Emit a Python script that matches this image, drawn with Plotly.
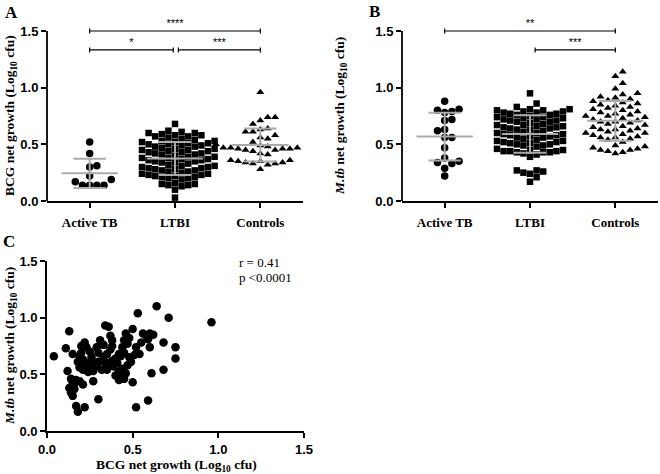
import numpy as np
import plotly.graph_objects as go

# ---------------- data ----------------
groups = ["Active TB", "LTBI", "Controls"]

bcg_active = [0.52, 0.42, 0.31, 0.30, 0.22, 0.17, 0.19, 0.14, 0.14, 0.14, 0.14]
bcg_ltbi = [0.68,
            0.62, 0.61, 0.60, 0.60, 0.59, 0.58, 0.58, 0.57, 0.57, 0.56, 0.55, 0.54,
            0.53, 0.53, 0.52, 0.52, 0.51, 0.51, 0.50, 0.50, 0.49, 0.49, 0.48, 0.48, 0.47,
            0.46, 0.46, 0.45, 0.45, 0.44, 0.44, 0.43, 0.43, 0.42, 0.42, 0.41, 0.41, 0.40,
            0.39, 0.39, 0.38, 0.38, 0.37, 0.37, 0.36, 0.36, 0.35, 0.35, 0.34, 0.34, 0.33,
            0.32, 0.31, 0.31, 0.30, 0.30, 0.29, 0.29, 0.28, 0.28, 0.27, 0.27, 0.26, 0.26,
            0.25, 0.24, 0.24, 0.23, 0.23, 0.22, 0.22, 0.21, 0.21, 0.20, 0.20, 0.19,
            0.16, 0.15, 0.15, 0.14, 0.14, 0.13, 0.10,
            0.03]
bcg_controls = [0.96, 0.74, 0.74, 0.71, 0.68, 0.64, 0.63, 0.61, 0.61, 0.58, 0.56, 0.55,
                0.52, 0.50, 0.49, 0.48, 0.48, 0.47, 0.47, 0.47, 0.46, 0.46, 0.46, 0.45,
                0.45, 0.44, 0.42, 0.41, 0.36, 0.36, 0.35, 0.35, 0.34, 0.34, 0.33, 0.33,
                0.32, 0.28]

mtb_active = [0.88, 0.81, 0.80, 0.79, 0.78, 0.72, 0.71, 0.63, 0.62, 0.56, 0.56, 0.47,
              0.38, 0.35, 0.34, 0.33, 0.29, 0.22]
mtb_ltbi = [0.95, 0.86, 0.83,
            0.81, 0.81, 0.80, 0.80, 0.79, 0.79, 0.78, 0.78, 0.77, 0.77, 0.76, 0.76,
            0.75, 0.74, 0.74, 0.73, 0.73, 0.72, 0.72, 0.71, 0.71, 0.70, 0.70, 0.69,
            0.68, 0.67, 0.67, 0.66, 0.66, 0.65, 0.65, 0.64, 0.64, 0.63, 0.63, 0.62,
            0.61, 0.60, 0.60, 0.59, 0.59, 0.58, 0.58, 0.57, 0.57, 0.56, 0.56, 0.55,
            0.54, 0.53, 0.53, 0.52, 0.52, 0.51, 0.51, 0.50, 0.50, 0.49, 0.49, 0.48,
            0.46, 0.45, 0.45, 0.44, 0.44, 0.44, 0.43, 0.43, 0.43, 0.42, 0.41, 0.39,
            0.27, 0.27, 0.26, 0.25, 0.24, 0.21, 0.17]
mtb_controls = [1.14, 1.10, 1.04, 0.99, 0.95, 0.94, 0.92, 0.91, 0.90, 0.89,
                0.88, 0.87, 0.86, 0.85, 0.84, 0.83, 0.82, 0.81, 0.80, 0.79,
                0.78, 0.77, 0.76, 0.75, 0.75, 0.74, 0.73, 0.72, 0.71, 0.70,
                0.70, 0.69, 0.68, 0.67, 0.66, 0.65, 0.64, 0.63, 0.63, 0.62,
                0.61, 0.60, 0.60, 0.59, 0.58, 0.57, 0.56, 0.56, 0.55, 0.54,
                0.52, 0.49, 0.48, 0.47, 0.46, 0.45, 0.45, 0.44, 0.43, 0.42]

# panel C: paired BCG vs M.tb net growth
bcg_c = [0.04, 0.11, 0.13, 0.15, 0.12, 0.14, 0.15, 0.17, 0.16, 0.13, 0.14, 0.15, 0.17,
         0.18, 0.22, 0.19, 0.21, 0.22, 0.23, 0.19, 0.21, 0.20, 0.19, 0.21, 0.22, 0.24,
         0.26, 0.28, 0.27, 0.30, 0.29, 0.30, 0.31, 0.33, 0.34, 0.36, 0.37, 0.38, 0.35,
         0.37, 0.38, 0.32, 0.34, 0.35, 0.41, 0.42, 0.43, 0.42, 0.45, 0.46, 0.45, 0.47,
         0.50, 0.43, 0.45, 0.48, 0.49, 0.51, 0.40, 0.38, 0.44, 0.50, 0.53, 0.56, 0.58,
         0.60, 0.62, 0.55, 0.59, 0.60, 0.54, 0.64, 0.71, 0.68, 0.68, 0.61, 0.59, 0.52,
         0.75, 0.75, 0.96, 0.25, 0.27, 0.29, 0.33, 0.39, 0.40, 0.44, 0.47, 0.24, 0.18,
         0.16, 0.20, 0.42, 0.46, 0.36, 0.48, 0.30, 0.26, 0.52]
mtb_c = [0.66, 0.73, 0.88, 0.68, 0.53, 0.46, 0.43, 0.45, 0.42, 0.38, 0.34, 0.31, 0.22,
         0.17, 0.21, 0.44, 0.41, 0.78, 0.74, 0.66, 0.63, 0.69, 0.56, 0.54, 0.58, 0.60,
         0.58, 0.60, 0.44, 0.28, 0.74, 0.69, 0.80, 0.76, 0.93, 0.92, 0.84, 0.80, 0.68,
         0.72, 0.75, 0.54, 0.60, 0.54, 0.60, 0.52, 0.48, 0.45, 0.46, 0.86, 0.80, 0.77,
         0.90, 0.66, 0.69, 0.65, 0.61, 0.67, 0.64, 0.62, 0.74, 0.43, 1.04, 0.86, 0.84,
         0.86, 0.85, 0.78, 0.81, 0.74, 0.68, 1.10, 1.00, 0.78, 0.54, 0.51, 0.27, 0.21,
         0.74, 0.64, 0.96, 0.70, 0.53, 0.57, 0.65, 0.57, 0.49, 0.55, 0.58, 0.52, 0.61,
         0.37, 0.75, 0.68, 0.51, 0.60, 0.82, 0.61, 0.65, 0.74]

r_text = "r = 0.41"
p_text = "p <0.0001"

# significance comparisons: (group i, group j, bar level, label)
sig_a = [(0, 2, 1.50, "****"), (0, 1, 1.333, "*"), (1, 2, 1.333, "***")]
sig_b = [(0, 2, 1.50, "**"), (1, 2, 1.333, "***")]

# ---------------- geometry helpers ----------------
W, H = 660, 474
def dx(px):
    return px / W
def dy(py):
    return 1 - py / H

X_PX = 256 / 3.0        # pixels per category unit
Y_PX = 170 / 1.5        # pixels per 1.0 on y

def swarm(values, center, d_px):
    vals = np.asarray(values, dtype=float)
    order = np.argsort(vals, kind="stable")
    placed = []
    xo = np.zeros(len(vals))
    cands = [0.0]
    for n in range(1, 60):
        cands += [n * d_px, -n * d_px]
    for idx in order:
        y = vals[idx] * Y_PX
        for c in cands:
            ok = True
            for (px, py) in placed:
                if (c - px) ** 2 + (y - py) ** 2 < (d_px * 0.98) ** 2:
                    ok = False
                    break
            if ok:
                break
        placed.append((c, y))
        xo[idx] = c
    return center + xo / X_PX

fig = go.Figure()

symbols = ["circle", "square", "triangle-up"]
msizes = [7.5, 6.5, 7]
dspace = [7.2, 6.6, 7.4]
GRAY = "#ababab"

def dot_panel(datasets, xa, ya, sigs):
    for g, vals in enumerate(datasets):
        xs = swarm(vals, g, dspace[g])
        fig.add_trace(go.Scatter(x=xs, y=vals, mode="markers", xaxis=xa, yaxis=ya,
                                 marker=dict(symbol=symbols[g], size=msizes[g], color="black",
                                             line=dict(width=0)),
                                 showlegend=False, hoverinfo="y", cliponaxis=False))
    for g, vals in enumerate(datasets):
        m = float(np.mean(vals))
        s = float(np.std(vals, ddof=1))
        fig.add_trace(go.Scatter(
            x=[g - 0.33, g + 0.33, None, g - 0.19, g + 0.19, None, g - 0.19, g + 0.19, None, g, g],
            y=[m, m, None, m + s, m + s, None, m - s, m - s, None, m - s, m + s],
            mode="lines", xaxis=xa, yaxis=ya, line=dict(color=GRAY, width=2),
            showlegend=False, hoverinfo="skip"))
    for (i, j, lev, lab) in sigs:
        x0, x1 = float(i), float(j)
        for k in sigs:
            if k[2] == lev and (k[0], k[1]) != (i, j):
                if k[1] == i:
                    x0 += 0.04
                if k[0] == j:
                    x1 -= 0.02
        if i == 1 and not any(k[2] == lev and k[1] == 1 for k in sigs):
            x0 += 0.06
        c = 0.022
        fig.add_trace(go.Scatter(
            x=[x0, x0, None, x0, x1, None, x1, x1],
            y=[lev - c, lev + c, None, lev, lev, None, lev - c, lev + c],
            mode="lines", xaxis=xa, yaxis=ya, line=dict(color="black", width=1.2),
            showlegend=False, hoverinfo="skip", cliponaxis=False))
        fig.add_trace(go.Scatter(
            x=[(x0 + x1) / 2], y=[lev + 0.058], mode="text", text=[lab],
            textfont=dict(family="Liberation Sans", size=11, color="black"),
            xaxis=xa, yaxis=ya, showlegend=False, hoverinfo="skip", cliponaxis=False))

dot_panel([bcg_active, bcg_ltbi, bcg_controls], "x", "y", sig_a)
dot_panel([mtb_active, mtb_ltbi, mtb_controls], "x2", "y2", sig_b)

fig.add_trace(go.Scatter(x=bcg_c, y=mtb_c, mode="markers", xaxis="x3", yaxis="y3",
                         marker=dict(symbol="circle", size=8.5, color="black", line=dict(width=0)),
                         showlegend=False, cliponaxis=False))

TICKFONT = dict(family="Liberation Sans", size=13, color="black", weight="bold")
CATFONT = dict(family="Liberation Serif", size=13, color="black", weight="bold")
LW = 1.8

def cat_x(domain, anchor):
    return dict(domain=domain, anchor=anchor, range=[-0.5, 2.5], showline=True, linewidth=LW,
                linecolor="black", ticks="outside", ticklen=5, tickwidth=LW, tickcolor="black",
                tickvals=[0, 1, 2], ticktext=groups, tickfont=CATFONT, ticklabelstandoff=3,
                showgrid=False, zeroline=False, fixedrange=True, automargin=False)

def val_y(domain, rng, showline, anchor):
    return dict(domain=domain, anchor=anchor, range=rng, showline=showline, linewidth=LW,
                linecolor="black", ticks="outside", ticklen=5, tickwidth=LW, tickcolor="black",
                tickvals=[0, 0.5, 1.0, 1.5], tickformat=".1f", tickfont=TICKFONT,
                showgrid=False, zeroline=False, fixedrange=True, automargin=False)

ytop = 201 - 1.65 * Y_PX
fig.update_layout(
    width=W, height=H, margin=dict(l=0, r=0, t=0, b=0, pad=0),
    paper_bgcolor="white", plot_bgcolor="white",
    xaxis=cat_x([dx(47), dx(303)], "y"),
    yaxis=val_y([dy(201), dy(ytop)], [0, 1.65], False, "x"),
    xaxis2=cat_x([dx(402), dx(658)], "y2"),
    yaxis2=val_y([dy(201), dy(ytop)], [0, 1.65], False, "x2"),
    xaxis3=dict(domain=[dx(47), dx(304)], anchor="y3", range=[0, 1.5], showline=True,
                linewidth=LW, linecolor="black", ticks="outside", ticklen=5, tickwidth=LW,
                tickcolor="black", tickvals=[0, 0.5, 1.0, 1.5], tickformat=".1f",
                tickfont=TICKFONT, showgrid=False, zeroline=False, fixedrange=True,
                automargin=False),
    yaxis3=val_y([dy(431), dy(261)], [0, 1.5], True, "x3"),
)

# y axis lines for A and B (stop at 1.5 like the original)
for yr, xr in [("y", "x domain"), ("y2", "x2 domain")]:
    fig.add_shape(type="line", xref=xr, yref=yr, x0=0, x1=0, y0=0, y1=1.5,
                  line=dict(color="black", width=LW))

SERIF = "Liberation Serif"
ann = []
ann.append(dict(text="<b>BCG net growth (Log<sub>10</sub> cfu)</b>", x=dx(10), y=dy(116),
                textangle=-90))
ann.append(dict(text="<b><i>M.tb</i> net growth (Log<sub>10</sub> cfu)</b>", x=dx(340), y=dy(116),
                textangle=-90))
ann.append(dict(text="<b><i>M.tb</i> net growth (Log<sub>10</sub> cfu)</b>", x=dx(10), y=dy(346),
                textangle=-90))
ann.append(dict(text="<b>BCG net growth (Log<sub>10</sub> cfu)</b>", x=dx(176), y=dy(465),
                textangle=0))
for a in ann:
    a.update(xref="paper", yref="paper", showarrow=False, xanchor="center", yanchor="middle",
             font=dict(family=SERIF, size=13.5, color="black"))
for lab, px, py in [("A", 11, 12), ("B", 374, 11), ("C", 9, 241)]:
    ann.append(dict(text="<b>%s</b>" % lab, x=dx(px), y=dy(py), xref="paper", yref="paper",
                    showarrow=False, xanchor="center", yanchor="middle",
                    font=dict(family=SERIF, size=17, color="black")))
ann.append(dict(text=r_text, x=1.11, y=1.49, xref="x3", yref="y3", showarrow=False,
                xanchor="left", yanchor="middle", font=dict(family=SERIF, size=13, color="black")))
ann.append(dict(text=p_text, x=1.11, y=1.355, xref="x3", yref="y3", showarrow=False,
                xanchor="left", yanchor="middle", font=dict(family=SERIF, size=13, color="black")))
fig.update_layout(annotations=ann)

fig.write_html("out.html", config={"displayModeBar": False},
               post_script="document.body.style.margin='0';document.body.style.padding='0';")
